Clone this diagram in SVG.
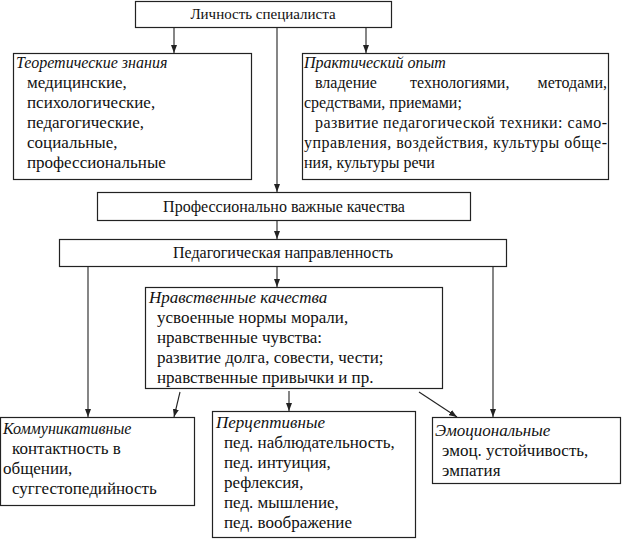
<svg xmlns="http://www.w3.org/2000/svg" width="622" height="539" viewBox="0 0 622 539">
<defs>
<marker id="ah" viewBox="0 0 8 6" refX="8" refY="3" markerWidth="8" markerHeight="6" markerUnits="userSpaceOnUse" orient="auto">
<path d="M0,0 L8,3 L0,6 z" fill="#222"/>
</marker>
<style>
.box{fill:#fff;stroke:#222;stroke-width:1.2}
.t{font-family:"Liberation Serif","Times New Roman",serif;font-size:17px;fill:#111}
.h{font-size:16px}
.s{font-size:15px}
.i{font-style:italic}
.c{text-anchor:middle}
.ln{stroke:#222;stroke-width:1.1;fill:none;marker-end:url(#ah)}
</style>
</defs>
<rect width="622" height="539" fill="#fff"/>
<g id="connectors">
<line class="ln" x1="174" y1="27" x2="174" y2="53"/>
<line class="ln" x1="277" y1="27" x2="277" y2="192"/>
<line class="ln" x1="366" y1="27" x2="366" y2="53"/>
<line class="ln" x1="277" y1="221" x2="277" y2="239"/>
<line class="ln" x1="88" y1="267" x2="88" y2="417"/>
<line class="ln" x1="493" y1="267" x2="493" y2="417"/>
<line class="ln" x1="277" y1="267" x2="277" y2="287"/>
<line class="ln" x1="180" y1="392" x2="174" y2="417"/>
<line class="ln" x1="289" y1="391" x2="289" y2="411"/>
<line class="ln" x1="419" y1="392" x2="457" y2="417"/>
</g>
<g id="lichnost">
<rect class="box" x="135.5" y="1.5" width="256" height="26"/>
<text class="t s c" x="263" y="19">Личность специалиста</text>
</g>
<g id="teor">
<rect class="box" x="13.5" y="53.5" width="238" height="126"/>
<text class="t h i" x="16" y="68">Теоретические знания</text>
<text class="t" x="27" y="88">медицинские,</text>
<text class="t" x="27" y="108">психологические,</text>
<text class="t" x="27" y="128">педагогические,</text>
<text class="t" x="27" y="148">социальные,</text>
<text class="t" x="27" y="168">профессиональные</text>
</g>
<g id="prakt">
<rect class="box" x="302.5" y="53.5" width="306" height="126"/>
<text class="t h i" x="304" y="68">Практический опыт</text>
<text class="t h" y="88"><tspan x="315">владение</tspan><tspan x="410">технологиями,</tspan><tspan x="607" text-anchor="end">методами,</tspan></text>
<text class="t h" x="304" y="108">средствами, приемами;</text>
<text class="t h" y="128" x="315" textLength="292" lengthAdjust="spacing">развитие педагогической техники: само-</text>
<text class="t h" y="148" x="304" textLength="303" lengthAdjust="spacing">управления, воздействия, культуры обще-</text>
<text class="t h" x="304" y="168">ния, культуры речи</text>
</g>
<g id="prof">
<rect class="box" x="97.5" y="192.5" width="373" height="28"/>
<text class="t h c" x="284" y="212">Профессионально важные качества</text>
</g>
<g id="ped">
<rect class="box" x="59.5" y="239.5" width="447" height="27"/>
<text class="t h c" x="283" y="258">Педагогическая направленность</text>
</g>
<g id="nravstv">
<rect class="box" x="145.5" y="287.5" width="297" height="101"/>
<text class="t i" x="149" y="303">Нравственные качества</text>
<text class="t" x="157" y="323">усвоенные нормы морали,</text>
<text class="t" x="157" y="343">нравственные чувства:</text>
<text class="t" x="157" y="363">развитие долга, совести, чести;</text>
<text class="t" x="157" y="383">нравственные привычки и пр.</text>
</g>
<g id="kommun">
<rect class="box" x="0.5" y="417.5" width="194" height="88"/>
<text class="t h i" x="3" y="434">Коммуникативные</text>
<text class="t" x="12" y="454">контактность в</text>
<text class="t" x="3" y="474">общении,</text>
<text class="t" x="12" y="494">суггестопедийность</text>
</g>
<g id="percept">
<rect class="box" x="212.5" y="411.5" width="203" height="126"/>
<text class="t i" x="216" y="428">Перцептивные</text>
<text class="t" x="224" y="448">пед. наблюдательность,</text>
<text class="t" x="224" y="468">пед. интуиция,</text>
<text class="t" x="224" y="488">рефлексия,</text>
<text class="t" x="224" y="508">пед. мышление,</text>
<text class="t" x="224" y="528">пед. воображение</text>
</g>
<g id="emoc">
<rect class="box" x="432.5" y="417.5" width="188" height="66"/>
<text class="t i" x="435" y="436">Эмоциональные</text>
<text class="t" x="442" y="456">эмоц. устойчивость,</text>
<text class="t" x="442" y="476">эмпатия</text>
</g>
</svg>
